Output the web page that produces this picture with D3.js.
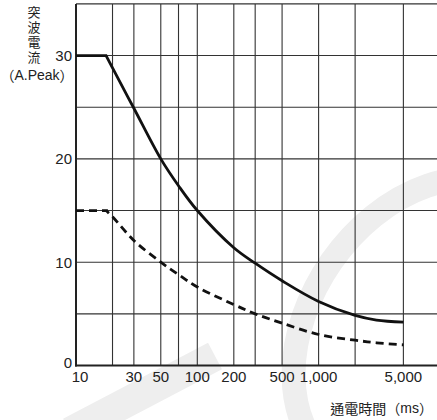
<!DOCTYPE html>
<html><head><meta charset="utf-8">
<script src="https://cdn.jsdelivr.net/npm/d3@7"></script>
<style>
html,body{margin:0;padding:0;background:#fff;}
svg{display:block;}
text{font-family:"Liberation Sans",Arial,sans-serif;fill:#222;}
.cjk{font-family:"Noto Sans CJK TC","Noto Sans CJK JP",sans-serif;}
.lat{font-family:"Liberation Sans",Arial,sans-serif;}
.vert{writing-mode:vertical-rl;text-orientation:upright;}
</style></head>
<body>
<svg id="c" width="437" height="420"></svg>
<script>
// Data
const xTickValues = [10, 30, 50, 100, 200, 500, 1000, 5000];
const xTickLabels = ["10", "30", "50", "100", "200", "500", "1,000", "5,000"];
const xGridValues = [10, 20, 30, 50, 70, 100, 200, 300, 500, 1000, 2000, 5000];
const yTickValues = [0, 10, 20, 30];
const yGridValues = [5, 10, 15, 20, 25, 30, 35];

const time = [10, 17.7, 20, 30, 50, 70, 100, 200, 300, 500, 1000, 2000, 3000, 5000];
const solidCurrent = [30, 30, 28.8, 24.9, 20, 17.4, 15, 11.4, 9.9, 8.2, 6.2, 4.85, 4.4, 4.2];
const dashedCurrent = [15, 15, 14.4, 12.1, 10, 8.8, 7.6, 5.9, 5.0, 4.1, 3.0, 2.45, 2.2, 2.0];

const svg = d3.select("#c");
const x = d3.scaleLog().domain([10, 10000]).range([76, 439.9]);
const y = d3.scaleLinear().domain([0, 35]).range([365.5, 3.9]);

// faint watermark
const wm = svg.append("g").attr("fill", "none").attr("stroke", "#eeeeee");
wm.append("path").attr("d", "M70,432 L215,356").attr("stroke-width", 30);
wm.append("ellipse").attr("cx", 430).attr("cy", 330).attr("rx", 120).attr("ry", 165)
  .attr("transform", "rotate(35,430,330)").attr("stroke-width", 24);

// grid
const g = svg.append("g");
g.selectAll(".vx").data(xGridValues).join("line")
  .attr("x1", d => x(d)).attr("x2", d => x(d)).attr("y1", y(35)).attr("y2", y(0))
  .attr("stroke", "#333").attr("stroke-width", 1.1);
g.selectAll(".hy").data(yGridValues).join("line")
  .attr("x1", x(10)).attr("x2", 437).attr("y1", d => y(d)).attr("y2", d => y(d))
  .attr("stroke", "#333").attr("stroke-width", 1.1);
// axes
g.append("line").attr("x1", x(10)).attr("x2", x(10)).attr("y1", y(35)).attr("y2", y(0) + 1)
  .attr("stroke", "#222").attr("stroke-width", 2);
g.append("line").attr("x1", x(10) - 1).attr("x2", 437).attr("y1", y(0)).attr("y2", y(0))
  .attr("stroke", "#222").attr("stroke-width", 2);

// curves: flat part + smooth decay
function drawCurve(vals, dash) {
  const pts = vals.map((v, i) => [x(time[i]), y(v)]);
  const flat = pts.slice(0, 2);
  const decay = pts.slice(1);
  const p = d3.path();
  p.moveTo(flat[0][0], flat[0][1]);
  p.lineTo(flat[1][0], flat[1][1]);
  let d = p.toString() + d3.line().curve(d3.curveCatmullRom.alpha(0.5))(decay).replace(/^M[^C]*/, "L" + decay[0][0] + "," + decay[0][1]);
  const path = svg.append("path").attr("d", d).attr("fill", "none")
    .attr("stroke", "#111").attr("stroke-width", 2.8).attr("stroke-linejoin", "miter");
  if (dash) path.attr("stroke-dasharray", "8,5");
}
drawCurve(solidCurrent, false);
drawCurve(dashedCurrent, true);

// y tick labels
svg.selectAll(".yt").data(yTickValues).join("text")
  .attr("x", 72).attr("y", d => y(d) + (d === 0 ? -3 : 0))
  .attr("text-anchor", "end").attr("dominant-baseline", "central")
  .attr("font-size", 15).text(d => d);

// x tick labels
svg.selectAll(".xt").data(xTickValues).join("text")
  .attr("x", (d, i) => i === 0 ? x(d) + 4 : x(d)).attr("y", 376)
  .attr("text-anchor", "middle").attr("dominant-baseline", "central")
  .attr("font-size", 15).text((d, i) => xTickLabels[i]);

// y axis title (vertical)
svg.append("text").attr("class", "cjk vert").attr("x", 34).attr("y", 6)
  .attr("font-size", 13).style("letter-spacing", "2px").text("突波電流");
const unit = svg.append("text").attr("x", 37).attr("y", 75)
  .attr("text-anchor", "middle").attr("dominant-baseline", "central").attr("font-size", 14);
unit.append("tspan").attr("class", "cjk").text("（");
unit.append("tspan").attr("class", "lat").text("A.Peak");
unit.append("tspan").attr("class", "cjk").text("）");

// x axis title
const xt = svg.append("text").attr("x", 433).attr("y", 408)
  .attr("text-anchor", "end").attr("dominant-baseline", "central").attr("font-size", 14);
xt.append("tspan").attr("class", "cjk").text("通電時間（");
xt.append("tspan").attr("class", "lat").text("ms");
xt.append("tspan").attr("class", "cjk").text("）");
</script>
</body></html>
